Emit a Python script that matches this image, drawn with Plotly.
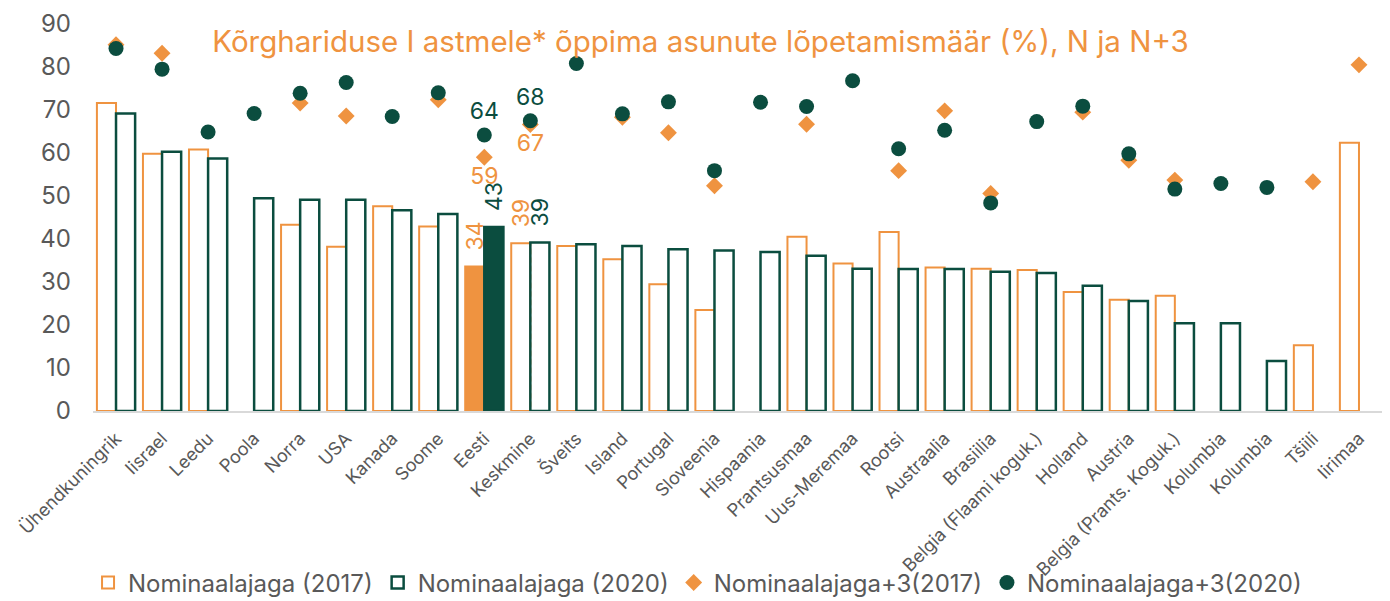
import plotly.graph_objects as go

categories = ["Ühendkuningrik", "Iisrael", "Leedu", "Poola", "Norra", "USA", "Kanada", "Soome",
              "Eesti", "Keskmine", "Šveits", "Island", "Portugal", "Sloveenia", "Hispaania",
              "Prantsusmaa", "Uus-Meremaa", "Rootsi", "Austraalia", "Brasiilia",
              "Belgia (Flaami koguk.)", "Holland", "Austria", "Belgia (Prants. Koguk.)",
              "Kolumbia", "Kolumbia", "Tšiili", "Iirimaa"]

nom_2017 = [71.6, 59.8, 60.8, None, 43.3, 38.2, 47.6, 42.9, 33.6, 39.0, 38.4, 35.3, 29.5, 23.5,
            None, 40.5, 34.3, 41.6, 33.4, 33.1, 32.8, 27.7, 25.9, 26.8, None, None, 15.3, 62.4]
nom_2020 = [69.2, 60.3, 58.7, 49.5, 49.1, 49.1, 46.7, 45.8, 42.8, 39.2, 38.8, 38.4, 37.6, 37.3,
            37.0, 36.1, 33.1, 33.0, 33.0, 32.4, 32.1, 29.1, 25.6, 20.4, 20.4, 11.6, None, None]
n3_2017 = [85.2, 83.2, None, None, 71.6, 68.6, None, 72.4, 59.0, 66.6, None, 68.3, 64.7, 52.4,
           None, 66.7, None, 55.9, 69.8, 50.6, None, 69.5, 58.3, 53.7, None, None, 53.3, 80.5]
n3_2020 = [84.3, 79.5, 64.9, 69.2, 73.9, 76.4, 68.5, 74.0, 64.2, 67.5, 80.8, 69.1, 71.9, 55.9,
           71.8, 70.8, 76.8, 61.0, 65.3, 48.4, 67.3, 70.9, 59.8, 51.6, 52.9, 52.0, None, None]

series_names = ["Nominaalajaga (2017)", "Nominaalajaga (2020)",
                "Nominaalajaga+3(2017)", "Nominaalajaga+3(2020)"]
title_text = "Kõrghariduse I astmele* õppima asunute lõpetamismäär (%), N ja N+3"
y_ticks = [0, 10, 20, 30, 40, 50, 60, 70, 80, 90]

solid_cat = "Eesti"
hatched_cat = "Keskmine"
labelled = [solid_cat, hatched_cat]

ORANGE = "#EF9340"
GREEN = "#0B4D3F"
GREY = "#595959"
FONT = "Inter"
GAP = "\u00a0\u00a0"  # small gap between rotated bar labels and bar tops

x = list(range(len(categories)))


def labels(vals, prefix=""):
    return [prefix + f"{round(v):.0f}" if (c in labelled and v is not None) else ""
            for c, v in zip(categories, vals)]


def fills(col):
    return [col if c == solid_cat else "white" for c in categories]


def shapes():
    return ["/" if c == hatched_cat else "" for c in categories]


fig = go.Figure()
for vals, name, col, lw in [(nom_2017, series_names[0], ORANGE, 2),
                            (nom_2020, series_names[1], GREEN, 2.5)]:
    fig.add_trace(go.Bar(
        x=x, y=vals, name=name,
        marker=dict(color=fills(col), line=dict(color=col, width=lw),
                    pattern=dict(shape=shapes(), fgcolor=col, bgcolor="white",
                                 size=6, solidity=0.35, fillmode="replace")),
        text=labels(vals, GAP), textposition="outside", textangle=-90,
        outsidetextfont=dict(color=col, size=23, family=FONT),
        constraintext="none", cliponaxis=False,
    ))

fig.add_trace(go.Scatter(
    x=x, y=n3_2017, name=series_names[2], mode="markers+text",
    marker=dict(symbol="diamond", size=13, color=ORANGE),
    text=labels(n3_2017), textposition="bottom center",
    textfont=dict(color=ORANGE, size=23, family=FONT), cliponaxis=False,
))
fig.add_trace(go.Scatter(
    x=x, y=n3_2020, name=series_names[3], mode="markers+text",
    marker=dict(symbol="circle", size=15, color=GREEN),
    text=labels(n3_2020), textposition="top center",
    textfont=dict(color=GREEN, size=23, family=FONT), cliponaxis=False,
))

fig.update_layout(
    width=1390, height=601,
    margin=dict(l=93, r=8, t=24, b=190),
    paper_bgcolor="white", plot_bgcolor="white",
    barmode="group", bargap=0.17, bargroupgap=0,
    font=dict(family=FONT, color=GREY),
    title=dict(text=title_text, font=dict(size=29.5, color=ORANGE, family=FONT),
               x=0.504, xref="container", xanchor="center",
               y=0.93, yref="container", yanchor="middle"),
    showlegend=True,
    legend=dict(orientation="h", x=0.469, xanchor="center",
                y=0.03, yref="container", yanchor="middle",
                bgcolor="rgba(0,0,0,0)",
                font=dict(size=24, color=GREY, family=FONT), traceorder="normal"),
    xaxis=dict(range=[-0.5, len(categories) - 0.5], tickmode="array", tickvals=x,
               ticktext=categories, tickangle=-45, tickfont=dict(size=18, color=GREY),
               showgrid=False, zeroline=False, showline=True, linecolor="#D9D9D9",
               linewidth=2, ticks="", automargin=False, ticklabelstandoff=8),
    yaxis=dict(range=[0, 90], tickvals=y_ticks, tickfont=dict(size=24, color=GREY),
               showgrid=False, zeroline=False, showline=False, ticks="",
               ticklabelstandoff=21, automargin=False),
)

fig.write_html("out.html", config={"displayModeBar": False},
               post_script="document.body.style.margin='0';")
